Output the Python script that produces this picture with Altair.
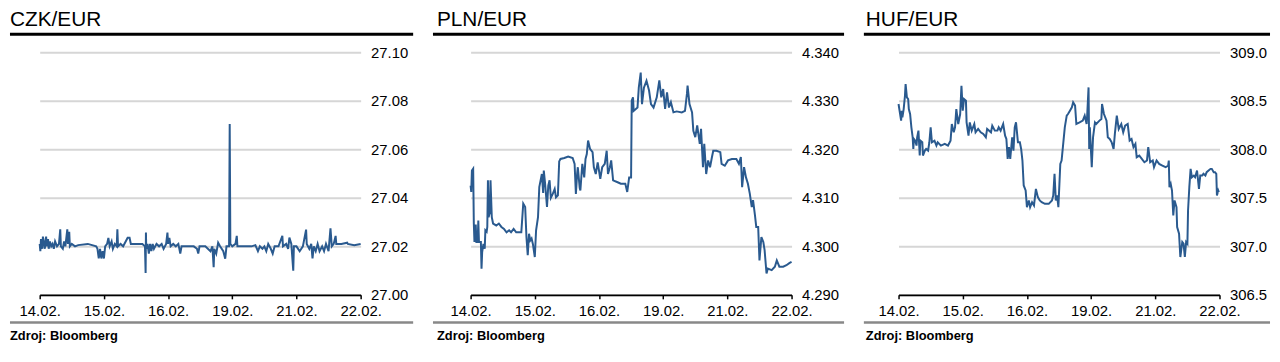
import altair as alt
import pandas as pd

# ---------------- data ----------------
x_labels = ["14.02.", "15.02.", "16.02.", "19.02.", "21.02.", "22.02."]

czk_ticks = [27.00, 27.02, 27.04, 27.06, 27.08, 27.10]
pln_ticks = [4.290, 4.300, 4.310, 4.320, 4.330, 4.340]
huf_ticks = [306.5, 307.0, 307.5, 308.0, 308.5, 309.0]

# (position in trading days from 14.02., rate)
czk = [
    (0.00, 27.021), (0.01, 27.018), (0.02, 27.023), (0.04, 27.019), (0.05, 27.024),
    (0.07, 27.021), (0.08, 27.019), (0.10, 27.024), (0.11, 27.020), (0.13, 27.023),
    (0.14, 27.019), (0.16, 27.022), (0.18, 27.020), (0.20, 27.021), (0.22, 27.019),
    (0.24, 27.022), (0.27, 27.020), (0.30, 27.021), (0.32, 27.027), (0.33, 27.020),
    (0.36, 27.019), (0.38, 27.022), (0.40, 27.020), (0.43, 27.027), (0.44, 27.021),
    (0.46, 27.026), (0.47, 27.020), (0.50, 27.021), (0.55, 27.020), (0.60, 27.0205),
    (0.75, 27.021), (0.88, 27.020), (0.90, 27.019), (0.92, 27.015), (0.94, 27.019),
    (0.96, 27.015), (0.98, 27.018), (1.00, 27.015), (1.02, 27.020), (1.05, 27.021),
    (1.07, 27.0235), (1.09, 27.020), (1.12, 27.022), (1.14, 27.019), (1.17, 27.021),
    (1.20, 27.020), (1.21, 27.027), (1.22, 27.020), (1.26, 27.021), (1.30, 27.020),
    (1.37, 27.0235), (1.40, 27.0235), (1.42, 27.021), (1.50, 27.021), (1.60, 27.021),
    (1.64, 27.020), (1.65, 27.009), (1.655, 27.0257), (1.66, 27.019), (1.68, 27.021),
    (1.70, 27.017), (1.72, 27.021), (1.74, 27.018), (1.76, 27.021), (1.78, 27.019),
    (1.82, 27.021), (1.86, 27.020), (1.90, 27.021), (1.93, 27.019), (1.97, 27.021),
    (1.99, 27.0257), (2.00, 27.021), (2.02, 27.0235), (2.04, 27.020), (2.08, 27.021),
    (2.12, 27.020), (2.16, 27.021), (2.19, 27.017), (2.21, 27.020), (2.30, 27.020),
    (2.40, 27.020), (2.45, 27.019), (2.47, 27.017), (2.49, 27.020), (2.58, 27.020),
    (2.62, 27.019), (2.66, 27.018), (2.69, 27.020), (2.71, 27.0114), (2.72, 27.019),
    (2.75, 27.017), (2.78, 27.0215), (2.81, 27.020), (2.86, 27.018), (2.89, 27.0149),
    (2.91, 27.020), (2.95, 27.020), (2.96, 27.0704), (2.97, 27.021), (3.00, 27.020),
    (3.05, 27.021), (3.07, 27.0243), (3.08, 27.020), (3.20, 27.020), (3.30, 27.020),
    (3.36, 27.0205), (3.40, 27.018), (3.43, 27.020), (3.47, 27.019), (3.50, 27.020),
    (3.53, 27.018), (3.56, 27.021), (3.60, 27.019), (3.63, 27.017), (3.66, 27.020),
    (3.72, 27.020), (3.78, 27.0243), (3.79, 27.020), (3.84, 27.021), (3.87, 27.019),
    (3.89, 27.0236), (3.92, 27.021), (3.95, 27.010), (3.96, 27.020), (4.00, 27.020),
    (4.05, 27.018), (4.10, 27.020), (4.15, 27.0269), (4.16, 27.021), (4.20, 27.019),
    (4.23, 27.021), (4.25, 27.015), (4.27, 27.020), (4.30, 27.018), (4.33, 27.021),
    (4.36, 27.018), (4.40, 27.020), (4.43, 27.018), (4.46, 27.021), (4.50, 27.018),
    (4.53, 27.0274), (4.55, 27.020), (4.58, 27.021), (4.61, 27.0243), (4.62, 27.021),
    (4.70, 27.021), (4.79, 27.0215), (4.80, 27.021), (4.90, 27.0205), (5.00, 27.021),
]

pln = [
    (0.00, 4.3125), (0.01, 4.3112), (0.02, 4.3156), (0.04, 4.3160), (0.05, 4.3047),
    (0.06, 4.3009), (0.08, 4.3045), (0.09, 4.3009), (0.11, 4.3009), (0.12, 4.3053),
    (0.13, 4.3009), (0.16, 4.3009), (0.17, 4.2954), (0.18, 4.2988), (0.20, 4.3005),
    (0.22, 4.2995), (0.23, 4.3033), (0.25, 4.3030), (0.26, 4.3040), (0.27, 4.3136),
    (0.28, 4.3060), (0.30, 4.3070), (0.31, 4.3136), (0.33, 4.3060), (0.35, 4.3047),
    (0.40, 4.3043), (0.44, 4.3047), (0.48, 4.3040), (0.52, 4.3036), (0.56, 4.3029),
    (0.60, 4.3033), (0.63, 4.3029), (0.67, 4.3036), (0.71, 4.3029), (0.75, 4.3029),
    (0.79, 4.3029), (0.82, 4.3088), (0.85, 4.3081), (0.87, 4.3019), (0.89, 4.2982),
    (0.91, 4.3026), (0.93, 4.3012), (0.95, 4.3016), (0.97, 4.3005), (1.00, 4.2978),
    (1.02, 4.3033), (1.05, 4.3060), (1.07, 4.3122), (1.11, 4.3149), (1.13, 4.3110),
    (1.14, 4.3156), (1.16, 4.3130), (1.19, 4.3081), (1.21, 4.3125), (1.23, 4.3136),
    (1.25, 4.3100), (1.28, 4.3108), (1.31, 4.3118), (1.33, 4.3101), (1.36, 4.3105),
    (1.38, 4.3175), (1.40, 4.3180), (1.46, 4.3182), (1.52, 4.3185), (1.59, 4.3182),
    (1.62, 4.3170), (1.64, 4.3108), (1.66, 4.3150), (1.67, 4.3163), (1.70, 4.3120),
    (1.71, 4.3115), (1.74, 4.3170), (1.77, 4.3142), (1.79, 4.3180), (1.81, 4.3190),
    (1.83, 4.3218), (1.86, 4.3201), (1.90, 4.3194), (1.92, 4.3163), (1.95, 4.3149),
    (1.98, 4.3173), (2.02, 4.3139), (2.05, 4.3163), (2.09, 4.3170), (2.12, 4.3197),
    (2.14, 4.3149), (2.17, 4.3163), (2.19, 4.3177), (2.22, 4.3136), (2.29, 4.3132),
    (2.34, 4.3129), (2.41, 4.3129), (2.44, 4.3112), (2.47, 4.3142), (2.50, 4.3142),
    (2.51, 4.3300), (2.53, 4.3307), (2.54, 4.3279), (2.60, 4.3286), (2.62, 4.3327),
    (2.65, 4.3358), (2.67, 4.3293), (2.70, 4.3327), (2.74, 4.3341), (2.78, 4.3321),
    (2.81, 4.3293), (2.85, 4.3286), (2.90, 4.3307), (2.94, 4.3342), (2.97, 4.3307),
    (3.00, 4.3324), (3.03, 4.3283), (3.06, 4.3317), (3.09, 4.3286), (3.12, 4.3297),
    (3.16, 4.3276), (3.21, 4.3278), (3.29, 4.3276), (3.34, 4.3279), (3.37, 4.3314),
    (3.38, 4.3331), (3.41, 4.3293), (3.45, 4.3276), (3.47, 4.3238), (3.50, 4.3225),
    (3.53, 4.3249), (3.57, 4.3211), (3.59, 4.3242), (3.62, 4.3163), (3.64, 4.3211),
    (3.67, 4.3149), (3.70, 4.3177), (3.73, 4.3163), (3.76, 4.3184), (3.78, 4.3197),
    (3.83, 4.3197), (3.89, 4.3194), (3.91, 4.3170), (3.96, 4.3166), (4.01, 4.3177),
    (4.07, 4.3180), (4.14, 4.3180), (4.18, 4.3170), (4.21, 4.3184), (4.23, 4.3122),
    (4.26, 4.3163), (4.29, 4.3142), (4.32, 4.3129), (4.35, 4.3108), (4.38, 4.3081),
    (4.40, 4.3095), (4.43, 4.3064), (4.45, 4.3040), (4.48, 4.3040), (4.50, 4.2971),
    (4.53, 4.3019), (4.56, 4.3009), (4.58, 4.2992), (4.61, 4.2944), (4.63, 4.2954),
    (4.69, 4.2951), (4.74, 4.2958), (4.77, 4.2971), (4.81, 4.2958), (4.87, 4.2958),
    (4.92, 4.2961), (4.97, 4.2966), (5.00, 4.2968),
]

huf = [
    (0.00, 308.466), (0.02, 308.380), (0.04, 308.295), (0.05, 308.397), (0.06, 308.329),
    (0.08, 308.414), (0.10, 308.551), (0.11, 308.671), (0.13, 308.534), (0.15, 308.517),
    (0.16, 308.414), (0.18, 308.363), (0.20, 308.226), (0.22, 308.123), (0.23, 308.003),
    (0.24, 308.106), (0.26, 308.089), (0.28, 308.038), (0.29, 308.123), (0.31, 308.192),
    (0.33, 307.935), (0.34, 308.089), (0.37, 308.072), (0.38, 307.935), (0.41, 307.986),
    (0.43, 308.003), (0.46, 307.986), (0.48, 308.072), (0.50, 308.226), (0.52, 308.072),
    (0.56, 308.089), (0.59, 308.038), (0.61, 308.072), (0.66, 308.038), (0.72, 308.055),
    (0.77, 308.038), (0.81, 308.089), (0.83, 308.260), (0.86, 308.175), (0.88, 308.226),
    (0.90, 308.414), (0.93, 308.260), (0.96, 308.363), (0.98, 308.654), (1.00, 308.397),
    (1.02, 308.517), (1.05, 308.500), (1.06, 308.277), (1.09, 308.140), (1.11, 308.277),
    (1.14, 308.192), (1.18, 308.260), (1.20, 308.175), (1.24, 308.209), (1.28, 308.175),
    (1.32, 308.158), (1.36, 308.123), (1.38, 308.209), (1.44, 308.175), (1.46, 308.243),
    (1.50, 308.192), (1.54, 308.192), (1.56, 308.226), (1.59, 308.192), (1.63, 308.260),
    (1.66, 308.140), (1.68, 308.106), (1.70, 307.901), (1.72, 308.021), (1.74, 307.901),
    (1.77, 308.123), (1.79, 307.986), (1.81, 308.226), (1.83, 308.277), (1.86, 308.072),
    (1.89, 308.072), (1.91, 308.003), (1.93, 307.884), (1.95, 307.627), (1.98, 307.575),
    (2.00, 307.404), (2.03, 307.473), (2.05, 307.404), (2.08, 307.455), (2.11, 307.421),
    (2.14, 307.592), (2.17, 307.507), (2.20, 307.473), (2.23, 307.455), (2.28, 307.438),
    (2.34, 307.438), (2.39, 307.473), (2.41, 307.524), (2.43, 307.747), (2.45, 307.473),
    (2.47, 307.524), (2.49, 307.404), (2.52, 307.849), (2.54, 307.884), (2.57, 308.089),
    (2.59, 308.226), (2.62, 308.346), (2.64, 308.363), (2.67, 308.397), (2.70, 308.432),
    (2.72, 308.483), (2.75, 308.449), (2.77, 308.260), (2.82, 308.277), (2.87, 308.295),
    (2.90, 308.346), (2.93, 308.260), (2.94, 308.363), (2.96, 308.637), (2.97, 308.003),
    (2.98, 308.226), (2.99, 308.089), (3.01, 307.815), (3.03, 308.123), (3.06, 308.277),
    (3.08, 308.260), (3.13, 308.295), (3.16, 308.312), (3.17, 308.466), (3.20, 308.363),
    (3.24, 308.295), (3.26, 308.123), (3.29, 308.106), (3.32, 308.072), (3.35, 308.003),
    (3.37, 308.158), (3.40, 308.346), (3.43, 308.209), (3.47, 308.260), (3.50, 308.175),
    (3.53, 308.243), (3.57, 308.260), (3.60, 308.089), (3.63, 308.106), (3.66, 308.021),
    (3.69, 308.055), (3.71, 307.918), (3.75, 307.935), (3.79, 307.901), (3.83, 307.866),
    (3.87, 307.884), (3.89, 308.021), (3.92, 307.866), (3.96, 307.884), (3.98, 307.815),
    (4.02, 307.884), (4.06, 307.849), (4.11, 307.832), (4.16, 307.815), (4.20, 307.832),
    (4.21, 307.884), (4.22, 307.610), (4.24, 307.644), (4.26, 307.575), (4.28, 307.318),
    (4.30, 307.473), (4.33, 307.404), (4.34, 307.199), (4.37, 307.130), (4.39, 306.890),
    (4.42, 307.045), (4.44, 307.027), (4.46, 306.890), (4.48, 307.045), (4.50, 307.027),
    (4.51, 307.370), (4.53, 307.610), (4.55, 307.798), (4.57, 307.712), (4.60, 307.729),
    (4.62, 307.712), (4.65, 307.781), (4.68, 307.592), (4.70, 307.729), (4.73, 307.729),
    (4.75, 307.747), (4.78, 307.729), (4.80, 307.764), (4.83, 307.781), (4.86, 307.798),
    (4.88, 307.798), (4.91, 307.764), (4.93, 307.764), (4.95, 307.747), (4.96, 307.524),
    (4.98, 307.575), (4.99, 307.558),
]

# ---------------- style ----------------
FONT = "Liberation Sans"
LINE_COLOR = "#2a5a8f"
GRID_COLOR = "#d6d6d6"
W, H = 324, 245

label_expr = "[" + ",".join(f"'{s}'" for s in x_labels) + "][datum.value]"


def panel(title, pairs, ticks, fmt, left, right, text_x):
    df = pd.DataFrame(pairs, columns=["pos", "rate"])
    one = pd.DataFrame({"k": [0]})

    line = alt.Chart(df).mark_line(color=LINE_COLOR, strokeWidth=2, interpolate="linear").encode(
        x=alt.X(
            "pos:Q",
            scale=alt.Scale(domain=[0, 5], nice=False, zero=False),
            axis=alt.Axis(
                values=list(range(6)), labelExpr=label_expr, title=None, grid=False,
                domainColor="black", domainWidth=2, tickColor="black", tickWidth=1.5,
                tickSize=4, labelPadding=5, labelFontSize=15, labelFont=FONT,
                labelColor="black", labelFlush=False, labelOverlap=False,
            ),
        ),
        y=alt.Y(
            "rate:Q",
            scale=alt.Scale(domain=[ticks[0], ticks[-1]], nice=False, zero=False),
            axis=alt.Axis(
                orient="right", values=ticks, format=fmt, title=None, domain=False,
                ticks=False, tickSize=0, labelPadding=10, grid=True, gridColor=GRID_COLOR,
                gridWidth=2, labelFontSize=15, labelFont=FONT, labelColor="black",
                labelFlush=False, labelOverlap=False,
            ),
        ),
    )

    top_rule = alt.Chart(one).mark_rule(color="black", strokeWidth=3).encode(
        x=alt.value(-left), x2=alt.value(right), y=alt.value(-18)
    )
    bottom_rule = alt.Chart(one).mark_rule(color="#888888", strokeWidth=2.5).encode(
        x=alt.value(-left), x2=alt.value(right), y=alt.value(273)
    )
    title_text = alt.Chart(one).mark_text(
        text=title, align="left", baseline="alphabetic", fontSize=21, font=FONT, color="black"
    ).encode(x=alt.value(text_x), y=alt.value(-26))
    source_text = alt.Chart(one).mark_text(
        text="Zdroj: Bloomberg", align="left", baseline="alphabetic", fontSize=13,
        fontWeight="bold", font=FONT, color="black"
    ).encode(x=alt.value(text_x), y=alt.value(290.5))

    return alt.layer(line, top_rule, bottom_rule, title_text, source_text).properties(
        width=W, height=H
    )


p1 = panel("CZK/EUR", czk, czk_ticks, ".2f", 30, 377, -30)
p2 = panel("PLN/EUR", pln, pln_ticks, ".3f", 38, 377, -34)
p3 = panel("HUF/EUR", huf, huf_ticks, ".1f", 35, 375, -33)

chart = (
    alt.hconcat(p1, p2, p3, spacing=16)
    .properties(padding=0)
    .configure_view(strokeWidth=0)
)

chart.save("out.html", embed_options={"renderer": "svg", "actions": False})
